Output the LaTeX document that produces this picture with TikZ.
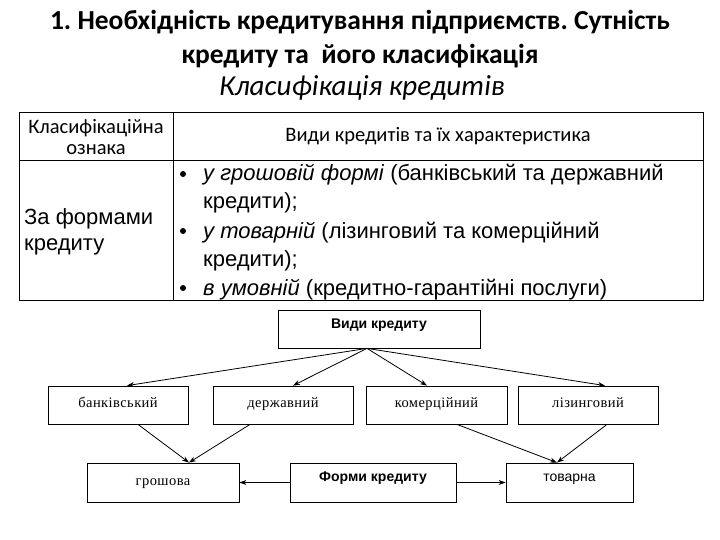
\documentclass[tikz,border=0pt]{standalone}
\usepackage{fontspec}
\setmainfont{Carlito}
\newfontfamily\lsans{Liberation Sans}
\newfontfamily\lserif[LetterSpace=3]{Liberation Serif}
\usetikzlibrary{arrows.meta}
\tikzset{
  box/.style={draw, line width=0.8pt, inner sep=0pt, text height=1.4ex, text depth=0.3ex},
  arr/.style={draw, line width=0.8pt, -{Stealth[length=7pt,width=5pt]}},
  serifbox/.style={box, font=\lserif\fontsize{14.5}{18}\selectfont},
  boldbox/.style={box, font=\lsans\bfseries\fontsize{14}{16}\selectfont},
  body/.style={anchor=base west, inner sep=0pt, font=\lsans\fontsize{22}{26}\selectfont},
  bul/.style={circle, fill=black, inner sep=0pt, minimum size=6pt}
}
\begin{document}
\frenchspacing
\begin{tikzpicture}[x=1pt,y=-1pt]
\useasboundingbox (0,0) rectangle (720,540);
% titles
\node[font=\bfseries\fontsize{27.5}{30}\selectfont] (t1) at (360,22) {1. Необхідність кредитування підприємств. Сутність};
\node[font=\bfseries\fontsize{27.5}{30}\selectfont] (t2) at (360,56) {кредиту та\ \ його класифікація};
\node[font=\itshape\fontsize{29}{32}\selectfont] (t3) at (362,88) {Класифікація кредитів};
% table
\draw[line width=0.8pt] (19,112) rectangle (703,300);
\draw[line width=0.8pt] (19,160) -- (703,160);
\draw[line width=0.8pt] (173,112) -- (173,300);
\node[font=\fontsize{20.5}{21}\selectfont, align=center] (h1) at (96,137) {Класифікаційна\\ознака};
\node[font=\fontsize{20.5}{24}\selectfont] (h2) at (438,136) {Види кредитів та їх характеристика};
\node[body] (f1) at (24,225) {За формами};
\node[body] (f2) at (24,251) {кредиту};
\node[bul] (b1) at (183,174) {};
\node[bul] (b2) at (183,231) {};
\node[bul] (b3) at (183,288) {};
\node[body] (l1) at (203,181) {\textit{у грошовій формі} (банківський та державний};
\node[body] (l2) at (203,209) {кредити);};
\node[body] (l3) at (203,238) {\textit{у товарній} (лізинговий та комерційний};
\node[body] (l4) at (203,266) {кредити);};
\node[body] (l5) at (203,295) {\textit{в умовній} (кредитно-гарантійні послуги)};
% diagram
\node[boldbox, minimum width=202pt, minimum height=38pt] (vydy) at (379,329) {\raisebox{3pt}{Види кредиту}};
\node[serifbox, minimum width=140pt, minimum height=38pt] (bank) at (118,405) {банківський};
\node[serifbox, minimum width=140pt, minimum height=38pt] (derzh) at (283,405) {державний};
\node[serifbox, minimum width=141pt, minimum height=38pt] (komer) at (436.5,405) {комерційний};
\node[serifbox, minimum width=140pt, minimum height=38pt] (lizing) at (588,405) {лізинговий};
\node[serifbox, minimum width=152pt, minimum height=39pt] (hrosh) at (163,482.5) {грошова};
\node[boldbox, minimum width=166pt, minimum height=39pt] (formy) at (373,482.5) {\raisebox{4pt}{Форми кредиту}};
\node[box, minimum width=127pt, minimum height=39pt, font=\lsans\fontsize{14}{16}\selectfont] (tovar) at (569.5,482.5) {\raisebox{4pt}{товарна}};
\coordinate (src) at ([xshift=-12pt]vydy.south);
\draw[arr] (src) -- ([xshift=9pt]bank.north);
\draw[arr] (src) -- ([xshift=10pt]derzh.north);
\draw[arr] (src) -- ([xshift=-9.5pt]komer.north);
\draw[arr] (src) -- ([xshift=17pt]lizing.north);
\draw[arr] ([xshift=20pt]bank.south) -- ([xshift=26pt]hrosh.north);
\draw[arr] ([xshift=-33pt]derzh.south) -- ([xshift=26pt]hrosh.north);
\draw[arr] ([xshift=20.5pt]komer.south) -- ([xshift=-12.5pt]tovar.north);
\draw[arr] ([xshift=19pt]lizing.south) -- ([xshift=-12.5pt]tovar.north);
\draw[arr] (formy.west) -- (hrosh.east);
\draw[arr] (formy.east) -- (tovar.west);
\end{tikzpicture}
\end{document}
